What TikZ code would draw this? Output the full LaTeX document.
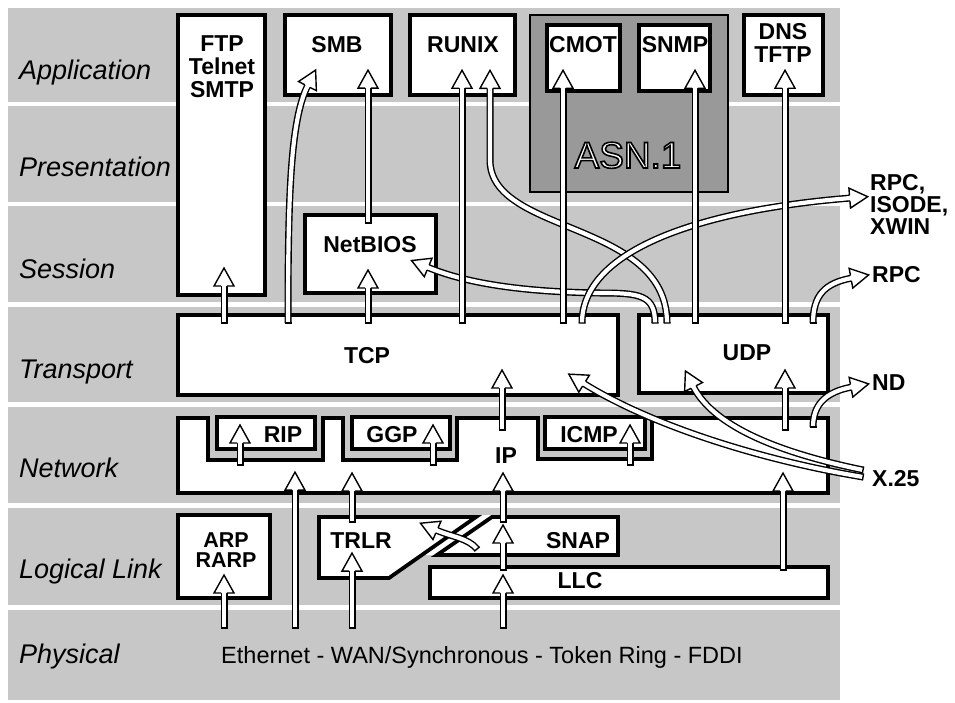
\documentclass[tikz,border=0pt]{standalone}
\usepackage{fontspec}
\setmainfont{Liberation Sans}
\usetikzlibrary{decorations.markings,fit}
\definecolor{bandgray}{gray}{0.78}
\definecolor{asngray}{gray}{0.6}
\tikzset{
  hollow/.style={draw=black, line width=1.4pt, double=white, double distance=4.2pt,
    postaction={decorate, decoration={markings,
      mark=at position 0 with {\draw[black, line width=1.4pt] (0,-3.5) -- (0,3.5);},
      mark=at position 0.999 with {\filldraw[fill=white, draw=black, line width=1.4pt, line join=miter] (-1,2.8) -- (-1,10) -- (17,0) -- (-1,-10) -- (-1,-2.8);}}}},
  bx/.style={draw=black, line width=3.8pt, fill=white, line join=miter, inner sep=0pt},
  asnbox/.style={draw=black, line width=2pt, fill=asngray, inner sep=0pt},
  lyr/.style={font=\fontsize{27}{27}\selectfont\itshape, anchor=base west, inner sep=0pt},
  bt/.style={font=\fontsize{23}{23}\selectfont\bfseries, anchor=base, inner sep=0pt},
  bts/.style={font=\fontsize{21.5}{21.5}\selectfont\bfseries, anchor=base, inner sep=0pt},
  rt/.style={font=\fontsize{23}{23}\selectfont\bfseries, anchor=base west, inner sep=0pt},
  phys/.style={font=\fontsize{23.5}{23.5}\selectfont, anchor=base, inner sep=0pt},
  asnt/.style={font=\fontsize{37}{37}\selectfont, anchor=base, inner sep=0pt},
}
\begin{document}
\begin{tikzpicture}[x=1pt,y=-1pt]
\useasboundingbox (0,0) rectangle (955,703);
\fill[white] (0,0) rectangle (955,703);
% layer bands
\foreach \a/\b in {8/102,106/202,206/302,307/402,407/503,508/605,610/700}
  \fill[bandgray] (8,\a) rectangle (840,\b);
% layer labels
\node[lyr] (lapp) at (19,80) {Application};
\node[lyr] (lpre) at (19,177) {Presentation};
\node[lyr] (lses) at (19,278) {Session};
\node[lyr] (ltra) at (19,378) {Transport};
\node[lyr] (lnet) at (19,477) {Network};
\node[lyr] (lll) at (19,578) {Logical Link};
\node[lyr] (lphy) at (19,663) {Physical};
% ASN.1 region
\node[asnbox, fit={(530,15) (728,192)}] (asn) {};
\node[asnt, text=white] (asnlabel) at (628,168)
  {\special{pdf:literal direct 2 Tr 1.6 w 0 G}ASN.1\special{pdf:literal direct 0 Tr}};
% boxes
\node[bx, fit={(178,15) (265,295)}] (ftp) {};
\node[bx, fit={(285,15) (391,95)}] (smb) {};
\node[bx, fit={(410,15) (515,95)}] (runix) {};
\node[bx, fit={(547,25) (620,91)}] (cmot) {};
\node[bx, fit={(639,25) (710,91)}] (snmp) {};
\node[bx, fit={(744,15) (823,95)}] (dns) {};
\node[bx, fit={(305,215) (436,293)}] (netbios) {};
\node[bx, fit={(178,315) (618,395)}] (tcp) {};
\node[bx, fit={(639,315) (828,393)}] (udp) {};
\draw[bx] (178,418) -- (208,418) -- (208,460) -- (323,460) -- (323,418) -- (343,418)
  -- (343,460) -- (457,460) -- (457,418) -- (538,418) -- (538,459) -- (652,459)
  -- (652,418) -- (828,418) -- (828,493) -- (178,493) -- cycle;
\node[bx, fit={(217,417) (315,449)}] (rip) {};
\node[bx, fit={(352,417) (450,449)}] (ggp) {};
\node[bx, fit={(545,417) (645,449)}] (icmp) {};
\node[bx, fit={(178,515) (270,598)}] (arp) {};
\node[bx, fit={(430,567) (828,598)}] (llc) {};
% TRLR and SNAP with the white channel between them
\fill[white] (474,515) -- (494,515) -- (436,555) -- (420,555) -- cycle;
\draw[bx] (319,517) -- (476,517) -- (389,578) -- (319,578) -- cycle;
\draw[bx] (492,517) -- (618,517) -- (618,555) -- (437,555) -- cycle;
% box texts
\node[bt] (tftp) at (222,52) {FTP};
\node[bt] (ttel) at (222,75) {Telnet};
\node[bt] (tsmtp) at (222,98) {SMTP};
\node[bt] (tsmb) at (337,53) {SMB};
\node[bt] (trun) at (463,53) {RUNIX};
\node[bt] (tcmot) at (583,53) {CMOT};
\node[bt] (tsnmp) at (675,53) {SNMP};
\node[bt] (tdns) at (783,40) {DNS};
\node[bt] (ttftp) at (783,63) {TFTP};
\node[bt] (tnb) at (370,253) {NetBIOS};
\node[bt] (ttcp) at (367,363) {TCP};
\node[bt] (tudp) at (747,360) {UDP};
\node[bt] (trip) at (283,442) {RIP};
\node[bt] (tggp) at (392,442) {GGP};
\node[bt] (ticmp) at (589,442) {ICMP};
\node[bt] (tip) at (506,463) {IP};
\node[bts] (tarp) at (226,547) {ARP};
\node[bts] (trarp) at (226,567) {RARP};
\node[bt] (ttrlr) at (361,548) {TRLR};
\node[bt] (tsnap) at (578,548) {SNAP};
\node[bt] (tllc) at (580,588) {LLC};
\node[rt] (trpc1) at (870,191) {RPC,};
\node[rt] (tiso) at (870,213) {ISODE,};
\node[rt] (txwin) at (870,235) {XWIN};
\node[rt] (trpc2) at (872,283) {RPC};
\node[rt] (tnd) at (872,390) {ND};
\node[rt] (tx25) at (872,486) {X.25};
\node[phys] (tphys) at (482,663) {Ethernet - WAN/Synchronous - Token Ring - FDDI};
% curved arrows
\draw[hollow] (288,323) .. controls (288,200) and (290,120) .. (308,85);
\draw[hollow] (667,323) .. controls (667,220) and (490,235) .. (490,160) -- (490,87);
\draw[hollow] (655,323) .. controls (655,295) and (640,293) .. (600,293) .. controls (530,292) and (470,285) .. (427,267);
\draw[hollow] (582,323) .. controls (582,250) and (700,210) .. (851,198);
\draw[hollow] (813,323) .. controls (813,295) and (825,283) .. (852,278);
\draw[hollow] (813,427) .. controls (813,405) and (825,392) .. (852,387);
\draw[hollow] (863,470) .. controls (790,455) and (715,430) .. (693,386);
\draw[hollow] (863,477) .. controls (760,460) and (650,425) .. (583,383);
\draw[hollow] (477,549) .. controls (468,538) and (452,537) .. (436,530);
% straight arrows
\foreach \x/\ya/\yb in {224/323/285, 368/223/87, 368/323/287, 462/323/87, 563/323/87,
   695/323/87, 785/323/87, 502/430/387, 785/430/387, 240/465/442, 433/465/442,
   630/465/442, 295/628/489, 352/522/490, 503/522/490, 783/570/490, 224/628/592,
   352/628/570, 503/570/542, 503/628/592}
  \draw[hollow] (\x,\ya) -- (\x,\yb);
\end{tikzpicture}
\end{document}
